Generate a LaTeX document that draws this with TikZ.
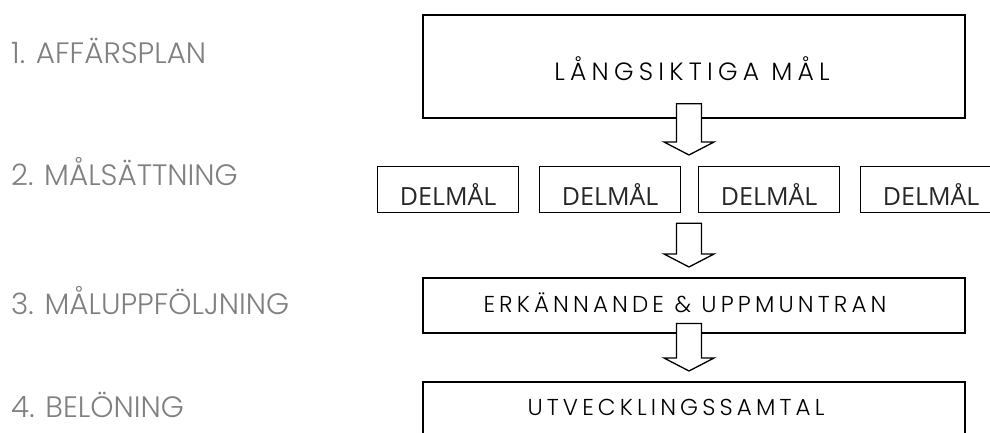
\documentclass[tikz,border=0pt]{standalone}
\usepackage{fontspec}
\usetikzlibrary{calc}
\newfontfamily\stagefont{Poppins Light}
\newfontfamily\headfont[LetterSpace=21]{Poppins Light}
\newfontfamily\framefont[LetterSpace=18]{Poppins Light}
\newfontfamily\partfont{Open Sans}
\definecolor{stagegray}{HTML}{808080}

% hollow block arrow from shaft top #1 to tip #2
\newcommand{\hollowarrow}[2]{%
  \draw[blockarrow] let \p1=(#1), \p2=(#2) in
    (\x1-12.5pt,\y1) -- (\x1+12.5pt,\y1) -- (\x1+12.5pt,\y2+13pt)
    -- (\x1+25pt,\y2+13pt) -- (\x2,\y2) -- (\x1-25pt,\y2+13pt)
    -- (\x1-12.5pt,\y2+13pt) -- cycle;}

\begin{document}
\begin{tikzpicture}[x=1pt,y=-1pt,
  stage/.style={font=\stagefont\fontsize{29.5}{33}\selectfont, text=stagegray,
    anchor=base west, inner sep=0pt},
  framebox/.style={draw=black, line width=1.5pt, fill=white, inner sep=0pt,
    anchor=north west, minimum width=#1},
  frametext/.style={font=\framefont\fontsize{23}{27}\selectfont, text=black,
    anchor=base, inner sep=0pt},
  partbox/.style={draw=black, line width=1.3pt, inner sep=0pt, anchor=north west,
    minimum width=141pt, minimum height=46pt},
  parttext/.style={font=\partfont\fontsize{25}{29}\selectfont, text=black!85,
    anchor=base, inner sep=0pt},
  blockarrow/.style={draw=black, line width=1.3pt, fill=white, line join=miter}]

\useasboundingbox (0,0) rectangle (990,433);
\clip (0,0) rectangle (990,433);
\fill[white] (0,0) rectangle (990,433);

% stage captions on the left
\node[stage] (s1) at (11,64)  {1. AFFÄRSPLAN};
\node[stage] (s2) at (11,185) {2. MÅLSÄTTNING};
\node[stage] (s3) at (11,314) {3. MÅLUPPFÖLJNING};
\node[stage] (s4) at (11,417) {4. BELÖNING};

% vertical axis of the arrows
\coordinate (axis) at (689,0);

% long-term goals
\node[framebox=542pt, minimum height=103pt, line width=1.8pt] (goals) at (422,14) {};
\node[frametext, font=\headfont\fontsize{25}{29}\selectfont] (goalst) at (692,81) {LÅNGSIKTIGA MÅL};

% sub-goals
\node[partbox] (p1) at (377,166) {};
\node[partbox] (p2) at (539,166) {};
\node[partbox] (p3) at (698,166) {};
\node[partbox] (p4) at (860,166) {};
\node[parttext] (p1t) at (p1.center |- 0,205) {DELMÅL};
\node[parttext] (p2t) at (p2.center |- 0,205) {DELMÅL};
\node[parttext] (p3t) at (p3.center |- 0,205) {DELMÅL};
\node[parttext] (p4t) at (p4.center |- 0,205) {DELMÅL};

% recognition
\node[framebox=542pt, minimum height=55pt] (praise) at (422,277) {};
\node[frametext] (praiset) at (685,312) {ERKÄNNANDE \& UPPMUNTRAN};

% appraisal talk (runs past the lower edge)
\node[framebox=542pt, minimum height=80pt] (talk) at (422,381) {};
\node[frametext] (talkt) at (676,415) {UTVECKLINGSSAMTAL};

% arrows between the levels
\coordinate (a1s) at ($(goals.south -| axis)+(0,-15)$);
\coordinate (a1t) at ($(p2.north -| axis)+(0,-11)$);
\hollowarrow{a1s}{a1t}

\coordinate (a2s) at ($(p2.south -| axis)+(0,10)$);
\coordinate (a2t) at ($(praise.north -| axis)+(0,-10)$);
\hollowarrow{a2s}{a2t}

\coordinate (a3s) at ($(praise.south -| axis)+(0,-10)$);
\coordinate (a3t) at ($(talk.north -| axis)+(0,-10)$);
\hollowarrow{a3s}{a3t}
\end{tikzpicture}
\end{document}
